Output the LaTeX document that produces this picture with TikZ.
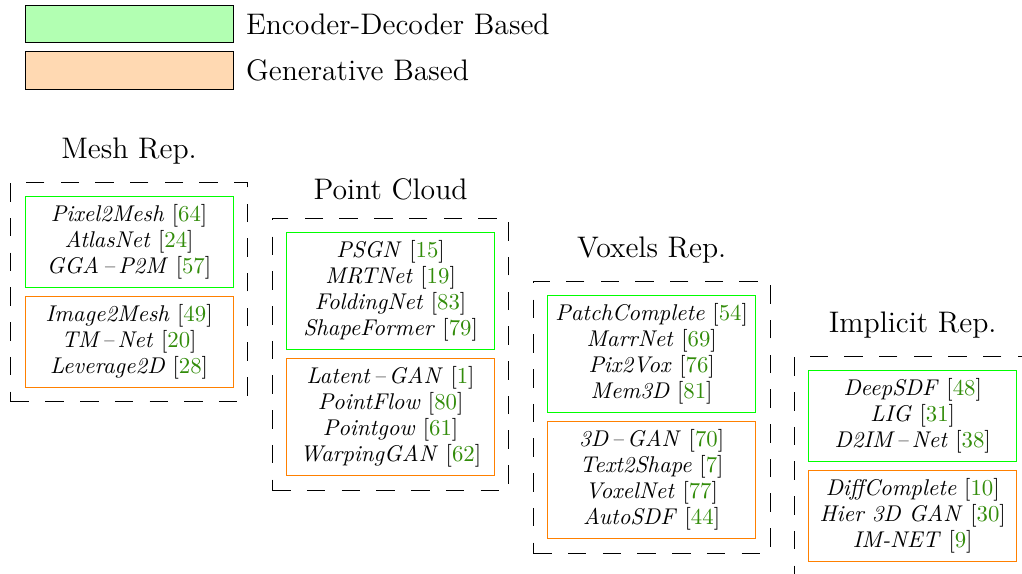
\documentclass[tikz,border=0pt]{standalone}
\usepackage{tikz}
\usepackage{xcolor}
\usetikzlibrary{positioning, fit}
\definecolor{citeGreen}{RGB}{50,140,10}
\newcommand{\refnum}[1]{[\textcolor{citeGreen}{#1}]}
\newcommand{\mname}[1]{\textit{#1}}

\begin{document}
\begin{tikzpicture}[
      encbox/.style={draw=green, minimum width=3.37cm, inner ysep=3.75pt, align=center, font=\fontsize{10.5}{12}\selectfont},
      genbox/.style={draw=orange, minimum width=3.37cm, inner ysep=3.75pt, align=center, font=\fontsize{10.5}{12}\selectfont},
      groupbox/.style={draw, dash pattern=on 8.5pt off 7.5pt, inner sep=6.4pt},
      reptitle/.style={font=\fontsize{13.7}{16}\selectfont},
      legendbox/.style={draw=black, minimum width=3.37cm, minimum height=0.61cm}
    ]
    \useasboundingbox (0,0) rectangle (16.56,-9.30);

    % legend
    \node[legendbox, fill=green!30] (legEnc) at (2.09,-0.389) {};
    \node[legendbox, fill=orange!30] (legGen) at (2.09,-1.143) {};
    \node[reptitle, right=0.08cm of legEnc] {Encoder-Decoder Based};
    \node[reptitle, right=0.08cm of legGen] {Generative Based};

    % mesh
    \node[encbox, anchor=north] (meshEnc) at (2.091,-3.177)
    {\mname{Pixel2Mesh} \refnum{64}\\\mname{AtlasNet} \refnum{24}\\\mname{GGA\,--\,P2M} \refnum{57}};
    \node[genbox, below=0.13cm of meshEnc] (meshGen)
    {\mname{Image2Mesh} \refnum{49}\\\mname{TM\,--\,Net} \refnum{20}\\\mname{Leverage2D} \refnum{28}};
    \node[groupbox, fit=(meshEnc)(meshGen)] (meshGroup) {};
    \node[reptitle, above=0.16cm of meshGroup] (meshTitle) {Mesh Rep.};

    % point cloud
    \node[encbox, anchor=north] (pointEnc) at (6.329,-3.760)
    {\mname{PSGN} \refnum{15}\\\mname{MRTNet} \refnum{19}\\\mname{FoldingNet} \refnum{83}\\\mname{ShapeFormer} \refnum{79}};
    \node[genbox, below=0.13cm of pointEnc] (pointGen)
    {\mname{Latent\,--\,GAN} \refnum{1}\\\mname{PointFlow} \refnum{80}\\\mname{Pointgow} \refnum{61}\\\mname{WarpingGAN} \refnum{62}};
    \node[groupbox, fit=(pointEnc)(pointGen)] (pointGroup) {};
    \node[reptitle, above=0.16cm of pointGroup] (pointTitle) {Point Cloud};

    % voxels
    \node[encbox, anchor=north] (voxelEnc) at (10.559,-4.781)
    {\mname{PatchComplete} \refnum{54}\\\mname{MarrNet} \refnum{69}\\\mname{Pix2Vox} \refnum{76}\\\mname{Mem3D} \refnum{81}};
    \node[genbox, below=0.13cm of voxelEnc] (voxelGen)
    {\mname{3D\,--\,GAN} \refnum{70}\\\mname{Text2Shape} \refnum{7}\\\mname{VoxelNet} \refnum{77}\\\mname{AutoSDF} \refnum{44}};
    \node[groupbox, fit=(voxelEnc)(voxelGen)] (voxelGroup) {};
    \node[reptitle, above=0.16cm of voxelGroup] (voxelTitle) {Voxels Rep.};

    % implicit
    \node[encbox, anchor=north] (implEnc) at (14.789,-5.997)
    {\mname{DeepSDF} \refnum{48}\\\mname{LIG} \refnum{31}\\\mname{D2IM\,--\,Net} \refnum{38}};
    \node[genbox, below=0.13cm of implEnc] (implGen)
    {\mname{DiffComplete} \refnum{10}\\\mname{Hier 3D GAN} \refnum{30}\\\mname{IM-NET} \refnum{9}};
    \node[groupbox, fit=(implEnc)(implGen)] (implGroup) {};
    \node[reptitle, above=0.16cm of implGroup] (implTitle) {Implicit Rep.};
  \end{tikzpicture}
\end{document}
